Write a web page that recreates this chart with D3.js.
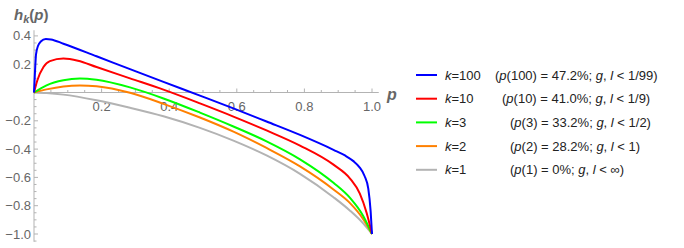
<!DOCTYPE html>
<html>
<head>
<meta charset="utf-8">
<script src="https://cdn.jsdelivr.net/npm/d3@7"></script>
<style>
  body { margin: 0; background: #fff; }
  text { font-family: "Liberation Sans", Arial, sans-serif; }
</style>
</head>
<body>
<div id="chart"></div>
<script>
// [p, h]
var k100 = [[0,0],[0.003,0.15],[0.006,0.27],[0.012,0.33],[0.02,0.36],[0.035,0.378],[0.05,0.375],[0.087,0.345],[0.185,0.256],[0.284,0.165],[0.383,0.075],[0.491,-0.022],[0.59,-0.112],[0.688,-0.205],[0.787,-0.3],[0.886,-0.405],[0.92,-0.445],[0.945,-0.485],[0.962,-0.525],[0.978,-0.59],[0.989,-0.68],[0.996,-0.84],[1,-1]];
var k10 = [[0,0],[0.01,0.087],[0.028,0.18],[0.047,0.222],[0.087,0.24],[0.13,0.225],[0.185,0.18],[0.284,0.1],[0.383,0.02],[0.491,-0.077],[0.59,-0.17],[0.688,-0.268],[0.787,-0.375],[0.886,-0.51],[0.935,-0.608],[0.964,-0.715],[0.984,-0.85],[1,-1]];
var k3 = [[0,0],[0.037,0.051],[0.087,0.087],[0.136,0.099],[0.185,0.09],[0.284,0.036],[0.383,-0.042],[0.491,-0.142],[0.59,-0.24],[0.688,-0.345],[0.787,-0.472],[0.886,-0.638],[0.935,-0.745],[0.974,-0.872],[1,-1]];
var k2 = [[0,0],[0.037,0.022],[0.087,0.043],[0.136,0.05],[0.185,0.044],[0.284,-0.002],[0.383,-0.08],[0.491,-0.177],[0.59,-0.277],[0.688,-0.392],[0.787,-0.522],[0.886,-0.685],[0.935,-0.782],[0.974,-0.895],[1,-1]];
var k1 = [[0,0],[0.037,-0.004],[0.087,-0.015],[0.185,-0.055],[0.284,-0.108],[0.383,-0.168],[0.491,-0.25],[0.59,-0.34],[0.688,-0.445],[0.787,-0.575],[0.886,-0.74],[0.935,-0.835],[0.974,-0.925],[1,-1]];

var kNames = ["100", "10", "3", "2", "1"];
var pk = ["100", "10", "3", "2", "1"];
var pkValues = ["47.2%", "41.0%", "33.2%", "28.2%", "0%"];
var bounds = ["1/99", "1/9", "1/2", "1", "\u221E"];
var xTicks = [0.2, 0.4, 0.6, 0.8, 1.0];
var yTicks = [0.4, 0.2, -0.2, -0.4, -0.6, -0.8, -1.0];

var series = [k100, k10, k3, k2, k1];
var colors = ["#0000ff", "#ff0000", "#00ff00", "#ff8000", "#b3b3b3"];

var width = 684, height = 248;
var svg = d3.select("#chart")
  .append("svg")
  .attr("width", width)
  .attr("height", height);

var x = d3.scaleLinear().domain([0, 1]).range([34, 372]);
var y = d3.scaleLinear().domain([-1, 0]).range([234, 92.5]);
var axisColor = "#b3b3b3", labelColor = "#666";

// axes
svg.append("line")
  .attr("x1", x(0)).attr("x2", x(1.02))
  .attr("y1", y(0)).attr("y2", y(0))
  .attr("stroke", axisColor);
svg.append("line")
  .attr("x1", x(0)).attr("x2", x(0))
  .attr("y1", y(0.44)).attr("y2", y(-1.055))
  .attr("stroke", axisColor);

var xMinor = d3.range(0.05, 1.01, 0.05);
svg.selectAll(".xt")
  .data(xMinor)
  .enter().append("line")
  .attr("x1", function(d) { return x(d); })
  .attr("x2", function(d) { return x(d); })
  .attr("y1", y(0))
  .attr("y2", function(d, i) { return y(0) - ((i + 1) % 4 == 0 ? 4 : 2.5); })
  .attr("stroke", axisColor);

var yMinor = d3.range(-1.05, 0.43, 0.05);
svg.selectAll(".yt")
  .data(yMinor)
  .enter().append("line")
  .attr("x1", x(0))
  .attr("x2", function(d) {
    var major = Math.abs(Math.round(d * 100) % 20) == 0;
    return x(0) + (major ? 4 : 2.5);
  })
  .attr("y1", function(d) { return y(d); })
  .attr("y2", function(d) { return y(d); })
  .attr("stroke", axisColor);

svg.selectAll(".xl")
  .data(xTicks)
  .enter().append("text")
  .attr("x", function(d) { return x(d); })
  .attr("y", y(0) + 18)
  .attr("text-anchor", "middle")
  .attr("font-size", 13)
  .attr("fill", labelColor)
  .text(function(d) { return d.toFixed(1); });

svg.selectAll(".yl")
  .data(yTicks)
  .enter().append("text")
  .attr("x", x(0) - 3)
  .attr("y", function(d) { return y(d) + 4.5; })
  .attr("text-anchor", "end")
  .attr("font-size", 13)
  .attr("fill", labelColor)
  .text(function(d) { return d.toFixed(1).replace("-", "\u2212"); });

// axis titles
var hl = svg.append("text")
  .attr("x", 14).attr("y", 20)
  .attr("font-size", 15).attr("font-weight", "bold")
  .attr("fill", labelColor);
hl.append("tspan").attr("font-style", "italic").text("h");
hl.append("tspan").attr("font-style", "italic").attr("font-size", 11).attr("dy", 3).text("k");
hl.append("tspan").attr("dy", -3).text("(");
hl.append("tspan").attr("font-style", "italic").text("p");
hl.append("tspan").text(")");

svg.append("text")
  .attr("x", 387).attr("y", 100)
  .attr("font-size", 16).attr("font-weight", "bold").attr("font-style", "italic")
  .attr("fill", labelColor)
  .text("p");

// curves
var line = d3.line()
  .x(function(d) { return x(d[0]); })
  .y(function(d) { return y(d[1]); })
  .curve(d3.curveMonotoneX);

svg.selectAll(".curve")
  .data(series.slice().reverse())
  .enter().append("path")
  .attr("d", line)
  .attr("fill", "none")
  .attr("stroke", function(d, i) { return colors[colors.length - 1 - i]; })
  .attr("stroke-width", 2);

// legend
var textX = [495, 502, 510, 510, 510];
kNames.forEach(function(k, i) {
  var ly = 75 + i * 23.7;
  svg.append("line")
    .attr("x1", 416).attr("x2", 437)
    .attr("y1", ly).attr("y2", ly)
    .attr("stroke", colors[i]).attr("stroke-width", 2);
  var t = svg.append("text")
    .attr("x", 445).attr("y", ly + 4.5)
    .attr("font-size", 13).attr("fill", "#222");
  t.append("tspan").attr("font-style", "italic").text("k");
  t.append("tspan").text("=" + k);
  var t2 = svg.append("text")
    .attr("x", textX[i]).attr("y", ly + 4.5)
    .attr("font-size", 13).attr("fill", "#222");
  t2.append("tspan").text("(");
  t2.append("tspan").attr("font-style", "italic").text("p");
  t2.append("tspan").text("(" + pk[i] + ") = " + pkValues[i] + "; ");
  t2.append("tspan").attr("font-style", "italic").text("g");
  t2.append("tspan").text(", ");
  t2.append("tspan").attr("font-style", "italic").text("l");
  t2.append("tspan").text(" < " + bounds[i] + ")");
});
</script>
</body>
</html>
